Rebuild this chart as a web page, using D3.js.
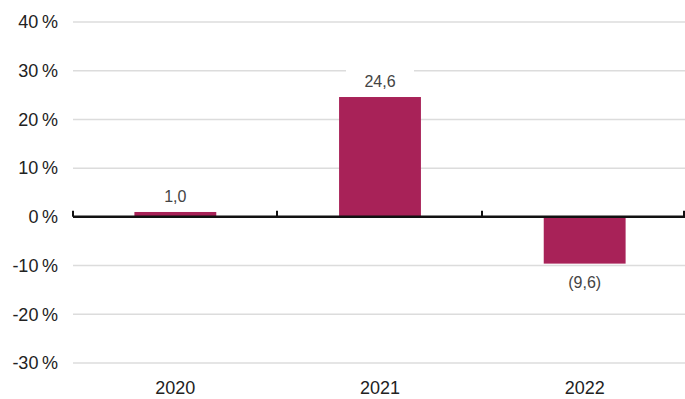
<!DOCTYPE html>
<html>
<head>
<meta charset="utf-8">
<script src="https://cdn.jsdelivr.net/npm/d3@7"></script>
<style>
  body { margin: 0; background: #fff; }
  text { font-family: "Liberation Sans", Arial, sans-serif; }
</style>
</head>
<body>
<div id="chart"></div>
<script>
let years = ["2020", "2021", "2022"]
let values = [1.0, 24.6, -9.6]
let labels = ["1,0", "24,6", "(9,6)"]
let yTicks = [40, 30, 20, 10, 0, -10, -20, -30]

let width = 685
let height = 399
let margin = {top: 22, right: 0, bottom: 36, left: 73}

let svg = d3.select('#chart')
            .append('svg')
            .attr('width', width)
            .attr('height', height)

let x = d3.scaleBand()
          .domain(years)
          .range([margin.left, 687])
          .paddingInner(0.6)
          .paddingOuter(0.3)

let y = d3.scaleLinear()
          .domain([-30, 40])
          .range([363, margin.top])

// gridlines
svg.append('g')
   .selectAll('line')
   .data(yTicks.filter(d => d != 0))
   .enter()
   .append('line')
   .attr('x1', margin.left)
   .attr('x2', width)
   .attr('y1', d => y(d))
   .attr('y2', d => y(d))
   .attr('stroke', '#dcdcdc')
   .attr('stroke-width', 1.5)

// y labels
svg.append('g')
   .selectAll('text')
   .data(yTicks)
   .enter()
   .append('text')
   .attr('x', 58)
   .attr('y', d => y(d))
   .attr('dy', '0.35em')
   .attr('text-anchor', 'end')
   .style('font-size', '18px')
   .style('fill', '#222')
   .text(d => d + '\u2009%')

// bars
svg.append('g')
   .selectAll('rect')
   .data(values)
   .enter()
   .append('rect')
   .attr('x', (d, i) => x(years[i]))
   .attr('width', x.bandwidth())
   .attr('y', d => y(Math.max(0, d)))
   .attr('height', d => Math.abs(y(d) - y(0)))
   .attr('fill', '#a82258')

// data labels with white background
let lab = svg.append('g')
   .selectAll('g')
   .data(values)
   .enter()
   .append('g')
   .attr('transform', (d, i) => {
       let cx = x(years[i]) + x.bandwidth() / 2
       let cy = d >= 0 ? y(d) - 16 : y(d) + 19
       return 'translate(' + cx + ',' + cy + ')'
   })

lab.append('rect')
   .attr('x', (d, i) => i == 1 ? -34 : -22)
   .attr('y', -12)
   .attr('width', (d, i) => i == 1 ? 68 : 44)
   .attr('height', 24)
   .attr('fill', '#fff')

lab.append('text')
   .attr('text-anchor', 'middle')
   .attr('dy', '0.35em')
   .style('font-size', '16px')
   .style('fill', '#444')
   .text((d, i) => labels[i])

// zero axis
svg.append('line')
   .attr('x1', margin.left)
   .attr('x2', width)
   .attr('y1', y(0))
   .attr('y2', y(0))
   .attr('stroke', '#111')
   .attr('stroke-width', 2.5)

let sep = [margin.left, 277, 482, 684]
svg.append('g')
   .selectAll('line')
   .data(sep)
   .enter()
   .append('line')
   .attr('x1', d => d)
   .attr('x2', d => d)
   .attr('y1', y(0))
   .attr('y2', y(0) - 6)
   .attr('stroke', '#111')
   .attr('stroke-width', 2)

// x labels
svg.append('g')
   .selectAll('text')
   .data(years)
   .enter()
   .append('text')
   .attr('x', d => x(d) + x.bandwidth() / 2)
   .attr('y', 388)
   .attr('dy', '0.35em')
   .attr('text-anchor', 'middle')
   .style('font-size', '18px')
   .style('fill', '#222')
   .text(d => d)
</script>
</body>
</html>
